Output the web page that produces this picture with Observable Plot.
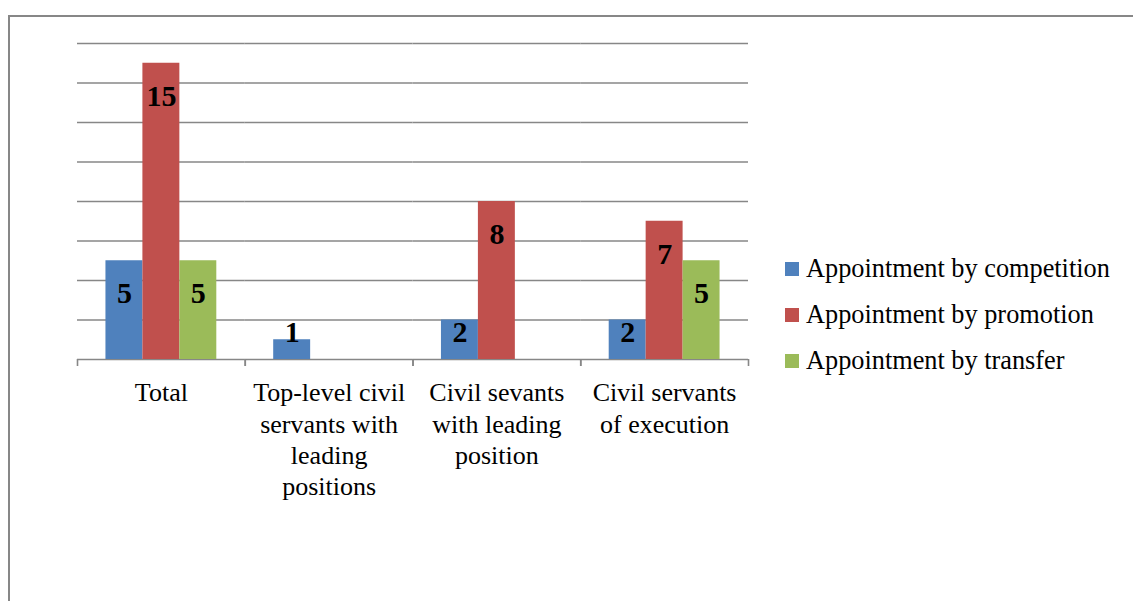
<!DOCTYPE html>
<html><head><meta charset="utf-8">
<script src="https://cdn.jsdelivr.net/npm/d3@7"></script>
<script src="https://cdn.jsdelivr.net/npm/@observablehq/plot@0.6"></script>
<style>
html,body{margin:0;padding:0;background:#fff;}
#wrap{position:relative;width:1133px;height:601px;overflow:hidden;font-family:'Liberation Serif','Times New Roman',serif;}
#frame{position:absolute;left:8px;top:15px;width:1300px;height:800px;border:2px solid #878787;pointer-events:none;}
#chart{position:absolute;left:0;top:0;}
.leg{position:absolute;font-size:26px;line-height:26px;color:#000;white-space:nowrap;font-family:'Liberation Serif','Times New Roman',serif;}
.sw{position:absolute;width:14px;height:14px;}
</style></head><body>
<div id="wrap"><div id="chart"></div><div id="legend"></div><div id="frame"></div></div>
<script>
const categories = ["Total", "Top-level civil servants with leading positions", "Civil sevants with leading position", "Civil servants of execution"];
const categoryLabels = ["Total", "Top-level civil\nservants with\nleading\npositions", "Civil sevants\nwith leading\nposition", "Civil servants\nof execution"];
const series = ["Appointment by competition", "Appointment by promotion", "Appointment by transfer"];
const competition = [5, 1, 2, 2];
const promotion = [15, 0, 8, 7];
const transfer = [5, 0, 0, 5];
const seriesColors = ["#4F81BD", "#C0504D", "#9BBB59"];
const gridTicks = [0, 2, 4, 6, 8, 10, 12, 14, 16];

const values = [competition, promotion, transfer];
const rows = [];
series.forEach((s, j) => categories.forEach((c, i) => rows.push({category: c, series: s, value: values[j][i]})));
const shown = rows.filter(d => d.value > 0);

const W = 1133, H = 601, mL = 77, mR = 385, mT = 43, mB = 242;
const outerPad = 0.77;
const step = (W - mL - mR) / categories.length / (series.length + 2 * outerPad);
const edge = (outerPad + 0.5) * step;
const gray = "#878787";

const plot = Plot.plot({
  width: W, height: H, marginLeft: mL, marginRight: mR, marginTop: mT, marginBottom: mB,
  style: {fontFamily: "'Liberation Serif','Times New Roman',serif", background: "transparent", color: "#000"},
  fx: {domain: categories, padding: 0, round: false, axis: null},
  x: {domain: series, paddingInner: 0, paddingOuter: outerPad, round: false, axis: null},
  y: {domain: [0, 16], axis: null},
  color: {domain: series, range: seriesColors},
  marks: [
    Plot.ruleY(gridTicks, {stroke: gray, strokeWidth: 1.6}),
    Plot.ruleX(categories, {fx: d => d, x: () => series[0], dx: -edge, insetTop: H - mT - mB, insetBottom: -7, stroke: gray, strokeWidth: 1.6}),
    Plot.ruleX(categories, {fx: d => d, x: () => series[series.length - 1], dx: edge, insetTop: H - mT - mB, insetBottom: -7, stroke: gray, strokeWidth: 1.6}),
    Plot.barY(shown, {fx: "category", x: "series", y: "value", fill: "series"}),
    Plot.text(shown.filter(d => d.value >= 3), {fx: "category", x: "series", y: "value", text: d => String(d.value), lineAnchor: "middle", dy: 33, fontSize: 30, fontWeight: "bold", fill: "#000"}),
    Plot.text(shown.filter(d => d.value < 3), {fx: "category", x: "series", frameAnchor: "bottom", text: d => String(d.value), lineAnchor: "middle", dy: -27, fontSize: 30, fontWeight: "bold", fill: "#000"}),
    Plot.text(categories, {fx: d => d, text: (d, i) => categoryLabels[i], frameAnchor: "bottom", lineAnchor: "top", dy: 19.5, lineHeight: 1.205, fontSize: 26, fill: "#000"})
  ]
});
document.getElementById("chart").appendChild(plot);

const legend = document.getElementById("legend");
series.forEach((s, i) => {
  const top = 262 + i * 46;
  const sw = document.createElement("div");
  sw.className = "sw";
  sw.style.left = "785px"; sw.style.top = top + "px"; sw.style.background = seriesColors[i];
  legend.appendChild(sw);
  const t = document.createElement("div");
  t.className = "leg";
  t.style.left = "806px"; t.style.top = (top - 6) + "px";
  t.style.fontSize = "26.3px";
  t.textContent = s;
  legend.appendChild(t);
});
</script>
</body></html>
